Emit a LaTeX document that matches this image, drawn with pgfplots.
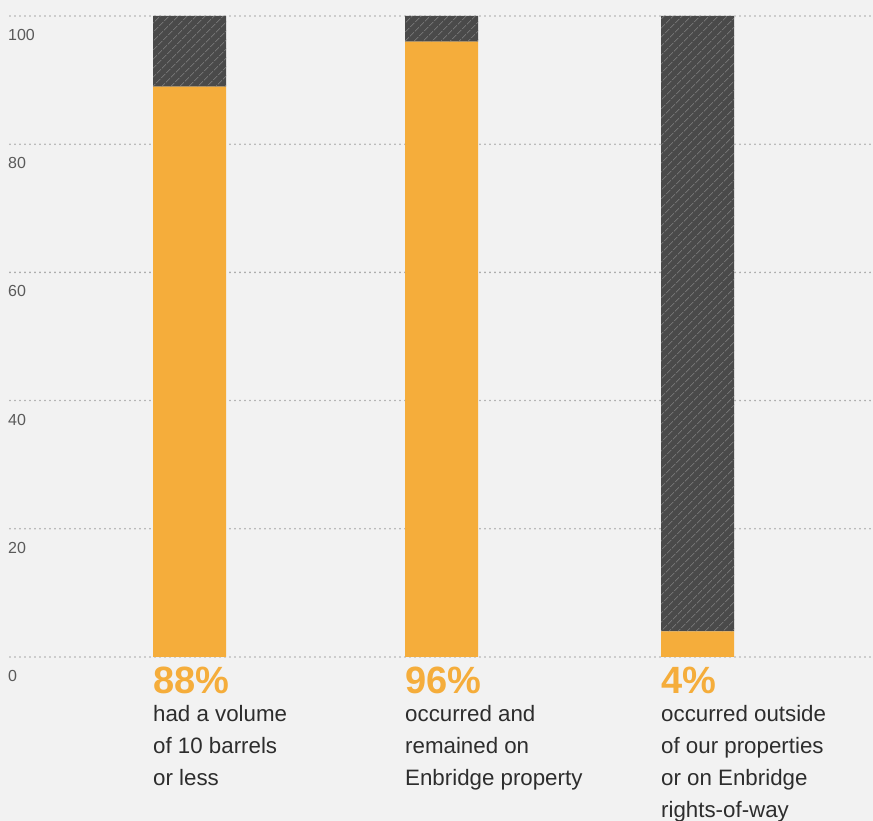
\documentclass[border=0pt]{standalone}
\usepackage{pgfplots}
\pgfplotsset{compat=1.18}
\usetikzlibrary{patterns.meta}
\usepackage{fontspec}
\setmainfont{Liberation Sans}
\definecolor{bg}{HTML}{F2F2F2}
\definecolor{orng}{HTML}{F5AD3B}
\definecolor{darkb}{HTML}{4A4A4A}
\definecolor{hatch}{HTML}{727272}
\definecolor{txt}{HTML}{2D2D2D}
\definecolor{tick}{HTML}{5A5A5A}
\definecolor{gridc}{HTML}{A8A8A8}
\begin{document}
\begin{tikzpicture}
\fill[bg] (-10pt,-164pt) rectangle (863pt,657pt);
\useasboundingbox (-10pt,-164pt) rectangle (863pt,657pt);
\begin{axis}[
  at={(0,0)}, anchor=south west,
  scale only axis, width=863pt, height=641pt,
  xmin=10, xmax=873, ymin=0, ymax=100,
  ybar stacked, bar width=73pt,
  axis line style={draw=none},
  ytick={0,20,40,60,80,100}, xtick=\empty,
  ymajorgrids, major tick length=0pt,
  grid style={draw=gridc, line width=1.8pt, line cap=round, dash pattern=on 0pt off 5pt},
  /pgf/number format/assume math mode=true,
  yticklabel style={anchor=west, inner sep=0pt, xshift=-2pt, yshift=-19pt, font=\fontsize{16}{18}\selectfont, text=tick},
  clip=false,
]
\addplot[fill=orng, draw=none] coordinates {(189.5,89) (441.5,96) (697.5,4)};
\addplot[fill=darkb, draw=none, postaction={pattern={Lines[angle=45,distance=6.5pt,line width=1pt]}, pattern color=hatch}] coordinates {(189.5,11) (441.5,4) (697.5,96)};
\end{axis}
\begin{scope}[every node/.style={anchor=base west, inner sep=0pt, text=txt, font=\fontsize{22.3}{32}\selectfont}]
\node[text=orng, font=\fontsize{38}{40}\selectfont\bfseries] at (143pt,-37pt) {88\%};
\node at (143pt,-65pt) {had a volume};
\node at (143pt,-97pt) {of 10 barrels};
\node at (143pt,-129pt) {or less};
\node[text=orng, font=\fontsize{38}{40}\selectfont\bfseries] at (395pt,-37pt) {96\%};
\node at (395pt,-65pt) {occurred and};
\node at (395pt,-97pt) {remained on};
\node at (395pt,-129pt) {Enbridge property};
\node[text=orng, font=\fontsize{38}{40}\selectfont\bfseries] at (651pt,-37pt) {4\%};
\node at (651pt,-65pt) {occurred outside};
\node at (651pt,-97pt) {of our properties};
\node at (651pt,-129pt) {or on Enbridge};
\node at (651pt,-161pt) {rights-of-way};
\end{scope}
\end{tikzpicture}
\end{document}
